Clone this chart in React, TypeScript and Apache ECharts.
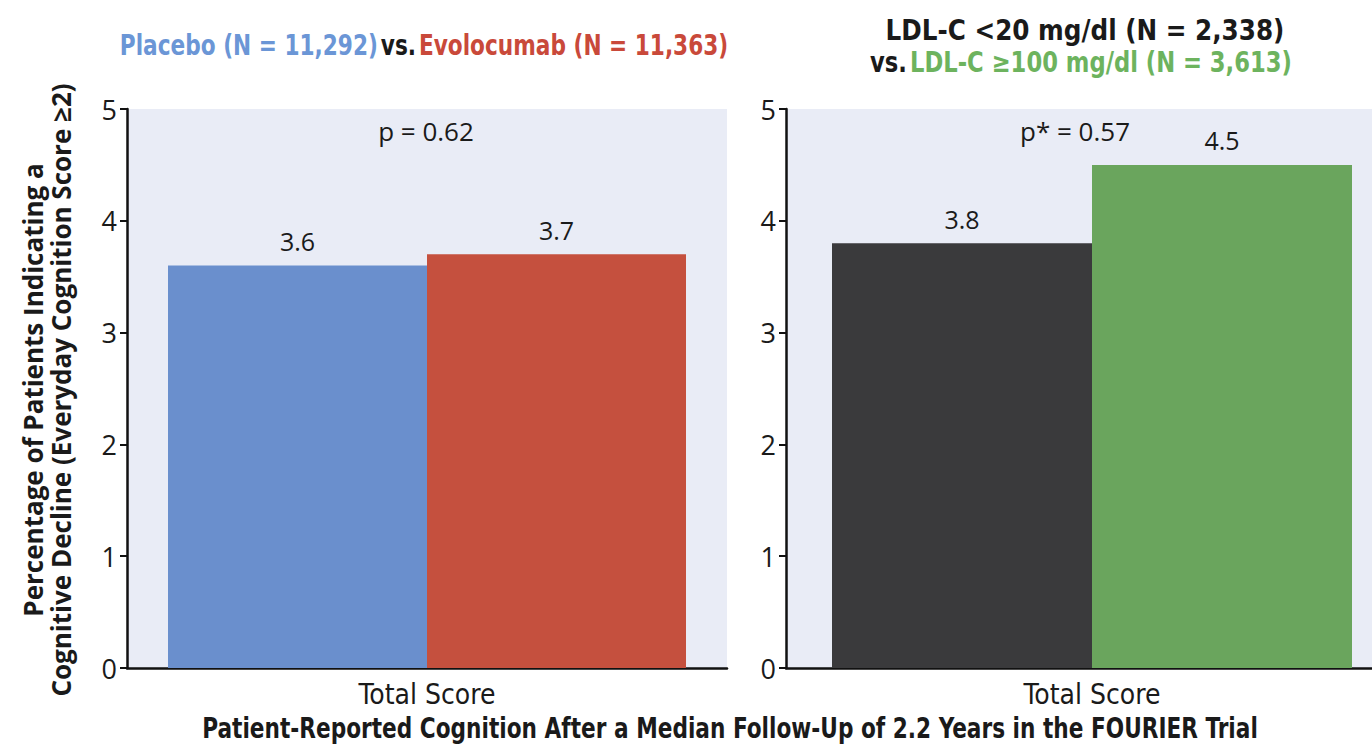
import React, { useEffect, useRef } from "react";
import * as echarts from "echarts";

const categories = ["Total Score"];
const placebo = [3.6];
const evolocumab = [3.7];
const ldlLow = [3.8];
const ldlHigh = [4.5];
const yMin = 0;
const yMax = 5;
const yInterval = 1;

const COND = "'DejaVu Sans Condensed', 'DejaVu Sans', sans-serif";
const SANS = "'Open Sans', 'Noto Sans', sans-serif";

export default function App() {
  const ref = useRef<HTMLDivElement>(null);
  useEffect(() => {
    if (!ref.current) return;
    const chart = echarts.init(ref.current, undefined, { renderer: "svg" });
    const axisLine = { show: true, lineStyle: { color: "#111", width: 2.5 } };
    const yAxisCommon = {
      type: "value",
      min: yMin,
      max: yMax,
      interval: yInterval,
      axisLine,
      axisTick: { show: true, length: 7, lineStyle: { color: "#111", width: 2 } },
      axisLabel: { fontSize: 27, color: "#1a1a1a", fontFamily: SANS, fontWeight: 500, margin: 10 },
      splitLine: { show: false },
    };
    const xAxisCommon = {
      type: "category",
      data: categories,
      axisLine,
      axisTick: { show: false },
      axisLabel: { fontSize: 28, color: "#1a1a1a", fontFamily: COND, margin: 12 },
    };
    const labelCommon = {
      show: true,
      position: "top",
      distance: 12,
      fontSize: 25,
      color: "#1a1a1a",
      fontFamily: SANS,
      fontWeight: 500,
    };
    const boldCond = (fill: string) => ({ fontSize: 28, fontWeight: "bold", fontFamily: COND, fill });
    const option = {
      animation: false,
      backgroundColor: "#ffffff",
      grid: [
        { left: 127, width: 600, top: 109, bottom: 80, show: true, backgroundColor: "#e9ecf6", borderWidth: 0 },
        { left: 786, width: 612, top: 109, bottom: 80, show: true, backgroundColor: "#e9ecf6", borderWidth: 0 },
      ],
      xAxis: [
        { ...xAxisCommon, gridIndex: 0 },
        { ...xAxisCommon, gridIndex: 1 },
      ],
      yAxis: [
        { ...yAxisCommon, gridIndex: 0 },
        { ...yAxisCommon, gridIndex: 1 },
      ],
      series: [
        {
          name: "Placebo",
          type: "bar",
          xAxisIndex: 0,
          yAxisIndex: 0,
          data: placebo,
          barWidth: 259,
          barGap: "0%",
          itemStyle: { color: "#6a8fcd" },
          label: labelCommon,
        },
        {
          name: "Evolocumab",
          type: "bar",
          xAxisIndex: 0,
          yAxisIndex: 0,
          data: evolocumab,
          barWidth: 259,
          barGap: "0%",
          itemStyle: { color: "#c5503e" },
          label: labelCommon,
        },
        {
          name: "LDL-C <20 mg/dl",
          type: "bar",
          xAxisIndex: 1,
          yAxisIndex: 1,
          data: ldlLow,
          barWidth: 260,
          barGap: "0%",
          itemStyle: { color: "#3a3a3c" },
          label: labelCommon,
        },
        {
          name: "LDL-C ≥100 mg/dl",
          type: "bar",
          xAxisIndex: 1,
          yAxisIndex: 1,
          data: ldlHigh,
          barWidth: 260,
          barGap: "0%",
          itemStyle: { color: "#6aa55d" },
          label: labelCommon,
        },
      ],
      graphic: [
        {
          type: "text",
          x: 424,
          y: 45,
          scaleX: 0.86,
          style: {
            text: "{b|Placebo (N = 11,292)} {k|vs.} {r|Evolocumab (N = 11,363)}",
            textAlign: "center",
            textVerticalAlign: "middle",
            rich: {
              b: boldCond("#6b96d6"),
              k: boldCond("#1a1a1a"),
              r: boldCond("#c9493a"),
            },
          },
        },
        {
          type: "text",
          x: 1085,
          y: 30,
          scaleX: 0.98,
          style: {
            text: "LDL-C <20 mg/dl (N = 2,338)",
            textAlign: "center",
            textVerticalAlign: "middle",
            ...boldCond("#1a1a1a"),
          },
        },
        {
          type: "text",
          x: 1081,
          y: 62,
          scaleX: 0.9,
          style: {
            text: "{k|vs.} {g|LDL-C ≥100 mg/dl (N = 3,613)}",
            textAlign: "center",
            textVerticalAlign: "middle",
            rich: {
              k: boldCond("#1a1a1a"),
              g: boldCond("#6db35e"),
            },
          },
        },
        {
          type: "text",
          x: 426,
          y: 131,
          style: {
            text: "p = 0.62",
            textAlign: "center",
            textVerticalAlign: "middle",
            fontSize: 26,
            fontWeight: 500,
            fontFamily: SANS,
            fill: "#1a1a1a",
          },
        },
        {
          type: "text",
          x: 1075,
          y: 131,
          style: {
            text: "p* = 0.57",
            textAlign: "center",
            textVerticalAlign: "middle",
            fontSize: 26,
            fontWeight: 500,
            fontFamily: SANS,
            fill: "#1a1a1a",
          },
        },
        {
          type: "text",
          x: 47,
          y: 390,
          rotation: Math.PI / 2,
          style: {
            text: "Percentage of Patients Indicating a\nCognitive Decline (Everyday Cognition Score ≥2)",
            textAlign: "center",
            textVerticalAlign: "middle",
            fontSize: 26,
            fontWeight: "bold",
            lineHeight: 28,
            fontFamily: SANS,
            fill: "#1a1a1a",
          },
        },
        {
          type: "text",
          x: 730,
          y: 728,
          scaleX: 0.86,
          style: {
            text: "Patient-Reported Cognition After a Median Follow-Up of 2.2 Years in the FOURIER Trial",
            textAlign: "center",
            textVerticalAlign: "middle",
            ...boldCond("#1a1a1a"),
          },
        },
      ],
    };
    chart.setOption(option as any);
    return () => chart.dispose();
  }, []);
  return (
    <div
      style={{ position: "fixed", left: 0, top: 0, width: 1372, height: 748, overflow: "hidden", background: "#fff" }}
    >
      <div ref={ref} style={{ width: 1400, height: 748 }} />
    </div>
  );
}
